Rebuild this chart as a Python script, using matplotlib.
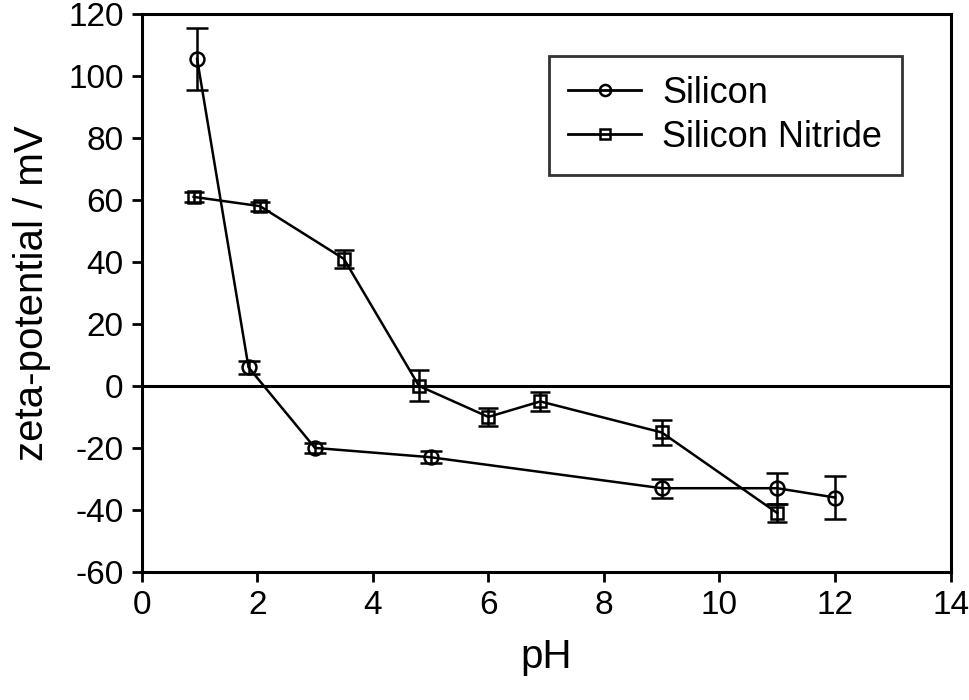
import matplotlib
matplotlib.use("Agg")
import matplotlib.pyplot as plt
from matplotlib.lines import Line2D

plt.rcParams["font.family"] = ["Liberation Sans", "DejaVu Sans"]
plt.rcParams["axes.unicode_minus"] = False

# Silicon
si_ph = [0.96, 1.85, 3.0, 5.0, 9.0, 11.0, 12.0]
si_zeta = [105.5, 6, -20, -23, -33, -33, -36]
si_err = [10, 2, 1.5, 2, 3, 5, 7]

# Silicon Nitride
sin_ph = [0.9, 2.05, 3.5, 4.8, 6.0, 6.9, 9.0, 11.0]
sin_zeta = [61, 58, 41, 0, -10, -5, -15, -41]
sin_err = [1.5, 1.5, 3, 5, 3, 3, 4, 3]

fig = plt.figure(figsize=(9.7, 7), dpi=100)
ax = fig.add_axes([0.146, 0.183, 0.834, 0.797])

ax.axhline(0, color="black", lw=2.2, zorder=1)

ax.errorbar(si_ph, si_zeta, yerr=si_err, color="black", lw=1.8, marker="o",
            ms=10, mfc="none", mec="black", mew=1.8, capsize=8, capthick=2.2,
            elinewidth=1.8)
ax.errorbar(sin_ph, sin_zeta, yerr=sin_err, color="black", lw=1.8, marker="s",
            ms=8, mfc="none", mec="black", mew=1.8, capsize=7, capthick=2.2,
            elinewidth=1.8)

ax.set_xlim(0, 14)
ax.set_ylim(-60, 120)
ax.set_xticks(range(0, 15, 2))
ax.set_yticks(range(-60, 121, 20))
ax.tick_params(direction="out", length=7, width=2, labelsize=24, pad=6)
for s in ax.spines.values():
    s.set_linewidth(2.2)

ax.set_xlabel("pH", fontsize=29, labelpad=12)
ax.set_ylabel("zeta-potential / mV", fontsize=29, labelpad=12)

handles = [
    Line2D([], [], color="black", lw=2, marker="o", ms=8, mfc="none", mew=1.8),
    Line2D([], [], color="black", lw=2, marker="s", ms=7, mfc="none", mew=1.8),
]
leg = ax.legend(handles, ["Silicon", "Silicon Nitride"], loc="upper right",
                bbox_to_anchor=(0.94, 0.925), fontsize=26,
                frameon=True, fancybox=False, edgecolor="black",
                handlelength=2.0, handletextpad=0.6, borderpad=0.55,
                labelspacing=0.25, borderaxespad=0)
leg.get_frame().set_linewidth(2)

fig.savefig("out.png", dpi=100)
